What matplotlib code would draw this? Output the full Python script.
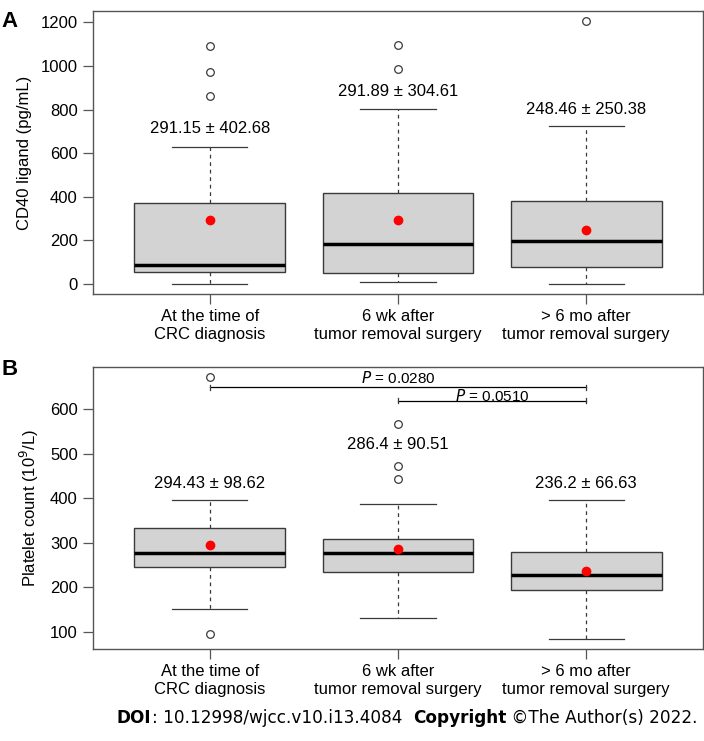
"""
Box plots of CD40 ligand and platelet count at three time points.
"""

import matplotlib
matplotlib.use("Agg")
import matplotlib.pyplot as plt

# ── DATA ──────────────────────────────────────────────────────────────────────
groups = ["At the time of\nCRC diagnosis",
          "6 wk after\ntumor removal surgery",
          "> 6 mo after\ntumor removal surgery"]

# panel A: CD40 ligand (pg/mL)
cd40_q1      = [55, 47, 77]
cd40_med     = [87, 181, 194]
cd40_q3      = [372, 417, 378]
cd40_whislo  = [0, 8, 0]
cd40_whishi  = [630, 801, 726]
cd40_fliers  = [[1092, 971, 864], [1097, 985], [1205]]
cd40_mean    = [291.15, 291.89, 248.46]
cd40_sd      = [402.68, 304.61, 250.38]
cd40_label_y = [713, 884, 800]

# panel B: platelet count (10^9/L)
plt_q1      = [245.5, 233.5, 193]
plt_med     = [276, 276, 227]
plt_q3      = [332.5, 308.4, 278.5]
plt_whislo  = [150, 131.5, 84]
plt_whishi  = [395, 387, 395]
plt_fliers  = [[672, 95.5], [566, 472.5, 444], []]
plt_mean    = [294.43, 286.4, 236.2]
plt_label_y = [433.5, 520, 432]
plt_mean_fmt = ["294.43", "286.4", "236.2"]
plt_sd_fmt   = ["98.62", "90.51", "66.63"]

# significance brackets: (from group, to group, y, text y, p-value)
sig_pairs = [(1, 3, 649, 670, "0.0280"), (2, 3, 619, 630.5, "0.0510")]

plt.rcParams["font.family"] = ["Liberation Sans", "DejaVu Sans"]

EDGE = "#3a3a3a"
FACE = "#d3d3d3"


def make_stats(q1, med, q3, lo, hi, fliers, mean):
    return [dict(q1=q1[i], med=med[i], q3=q3[i], whislo=lo[i], whishi=hi[i],
                 fliers=fliers[i], mean=mean[i]) for i in range(len(q1))]


def draw_box(ax, stats, ylim):
    ax.bxp(stats, positions=[1, 2, 3], widths=0.8, patch_artist=True,
           showmeans=True,
           boxprops=dict(facecolor=FACE, edgecolor=EDGE, linewidth=1.0),
           medianprops=dict(color="black", linewidth=2.5),
           whiskerprops=dict(color=EDGE, linewidth=0.9, linestyle=(0, (3, 3))),
           capprops=dict(color=EDGE, linewidth=0.9),
           capwidths=0.4,
           flierprops=dict(marker="o", markerfacecolor="none",
                           markeredgecolor=EDGE, markersize=5.5, markeredgewidth=0.9),
           meanprops=dict(marker="o", markerfacecolor="red",
                          markeredgecolor="red", markersize=6))
    ax.set_xlim(0.38, 3.62)
    ax.set_ylim(*ylim)
    ax.set_xticks([1, 2, 3])
    ax.set_xticklabels(groups, fontsize=12, linespacing=1.25)
    for s in ax.spines.values():
        s.set_color("#555555")
        s.set_linewidth(1.0)
    ax.tick_params(axis="both", direction="out", length=7, width=0.9,
                   color="#555555", labelsize=12, pad=4)


fig = plt.figure(figsize=(7.04, 7.41), dpi=100)

# ── Panel A ──────────────────────────────────────────────────────────────────
ax1 = fig.add_axes([0.132, 0.6032, 0.8665, 0.382])
draw_box(ax1, make_stats(cd40_q1, cd40_med, cd40_q3, cd40_whislo, cd40_whishi,
                         cd40_fliers, cd40_mean), (-48, 1253))
ax1.set_yticks([0, 200, 400, 600, 800, 1000, 1200])
ax1.set_ylabel("CD40 ligand (pg/mL)", fontsize=12, labelpad=6)
for i in range(3):
    ax1.text(i + 1, cd40_label_y[i], f"{cd40_mean[i]:.2f} ± {cd40_sd[i]:.2f}",
             ha="center", va="center", fontsize=12)

# ── Panel B ──────────────────────────────────────────────────────────────────
ax2 = fig.add_axes([0.132, 0.1242, 0.8665, 0.3806])
draw_box(ax2, make_stats(plt_q1, plt_med, plt_q3, plt_whislo, plt_whishi,
                         plt_fliers, plt_mean), (61, 695))
ax2.set_yticks([100, 200, 300, 400, 500, 600])
ax2.set_ylabel("Platelet count (10$^9$/L)", fontsize=12, labelpad=6)
for i in range(3):
    ax2.text(i + 1, plt_label_y[i], f"{plt_mean_fmt[i]} ± {plt_sd_fmt[i]}",
             ha="center", va="center", fontsize=12)

for a, b, y, ty, p in sig_pairs:
    ax2.plot([a, b], [y, y], color="black", linewidth=0.9)
    for x in (a, b):
        ax2.plot([x, x], [y - 6, y + 6], color=EDGE, linewidth=0.9)
    ax2.text((a + b) / 2, ty, f"$\\it{{P}}$ = {p}", ha="center", va="center",
             fontsize=11)

# panel letters
fig.text(0.002, 0.971, "A", fontsize=16, fontweight="bold", va="center")
fig.text(0.002, 0.501, "B", fontsize=16, fontweight="bold", va="center")

# footer
parts = [("DOI", "bold"), (": 10.12998/wjcc.v10.i13.4084  ", "normal"),
         ("Copyright", "bold"), (" ©The Author(s) 2022.", "normal")]
fig.canvas.draw()
renderer = fig.canvas.get_renderer()
x = 117 / 704
for txt, w in parts:
    t = fig.text(x, 1 - 718 / 741, txt, fontsize=12.2, fontweight=w,
                 family="DejaVu Sans", va="center")
    bb = t.get_window_extent(renderer)
    x += bb.width / fig.bbox.width

fig.savefig("out.png", dpi=100)
